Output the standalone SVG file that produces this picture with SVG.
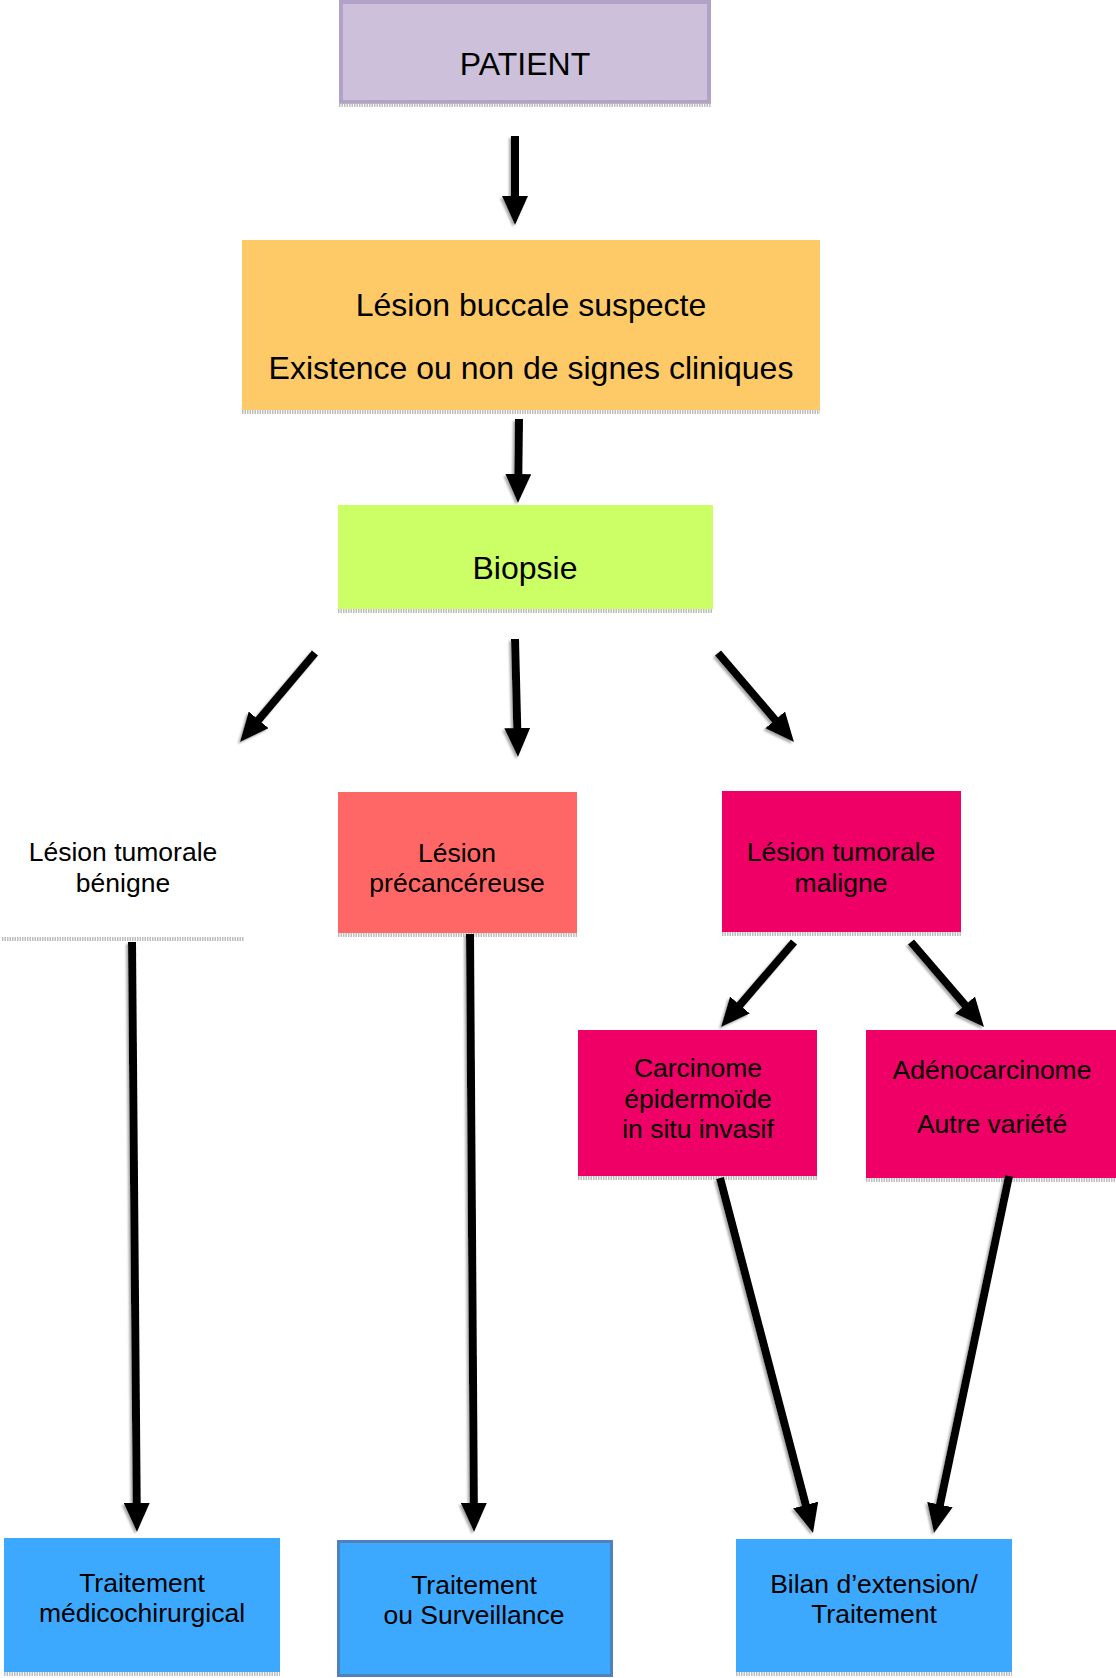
<svg xmlns="http://www.w3.org/2000/svg" width="1116" height="1678" viewBox="0 0 1116 1678">
<defs>
<style>
text{font-family:"Liberation Sans",Arial,sans-serif;fill:#000;text-anchor:middle}
.big{font-size:32px}
.sm{font-size:26.5px}
.conn line{stroke:#000;stroke-width:8;marker-end:url(#ah);filter:url(#sh)}
.shd{stroke:#bdbdbd;stroke-width:4;stroke-dasharray:1.5 1}
.blue{fill:#3ca9ff}
.mag{fill:#ee0066}
</style>
<marker id="ah" markerUnits="userSpaceOnUse" markerWidth="30" markerHeight="26" refX="10" refY="13" orient="auto">
<path d="M0,0 L29,13 L0,26 z" fill="#000"/>
</marker>
<filter id="sh" filterUnits="userSpaceOnUse" x="0" y="0" width="1116" height="1678">
<feDropShadow dx="-2" dy="2" stdDeviation="1" flood-color="#888" flood-opacity="0.7"/>
</filter>
</defs>
<rect width="1116" height="1678" fill="#fff"/>

<g id="patient">
<rect x="341" y="2" width="368" height="100" fill="#ccc0da" stroke="#b3a2c7" stroke-width="4"/>
<line class="shd" x1="339" y1="105" x2="711" y2="105"/>
<text class="big" x="525" y="75">PATIENT</text>
</g>

<g id="lesion-suspecte">
<rect x="242" y="240" width="578" height="170" fill="#fdca67"/>
<line class="shd" x1="242" y1="412" x2="820" y2="412"/>
<text class="big" x="531" y="316">Lésion buccale suspecte</text>
<text class="big" x="531" y="379">Existence ou non de signes cliniques</text>
</g>

<g id="biopsie">
<rect x="338" y="505" width="375" height="104" fill="#ccff66"/>
<line class="shd" x1="338" y1="611" x2="713" y2="611"/>
<text class="big" x="525" y="579">Biopsie</text>
</g>

<g id="benigne">
<line class="shd" x1="2" y1="939" x2="244" y2="939"/>
<text class="sm" x="123" y="861">Lésion tumorale</text>
<text class="sm" x="123" y="892">bénigne</text>
</g>

<g id="precancereuse">
<rect x="338" y="792" width="239" height="141" fill="#ff6666"/>
<line class="shd" x1="338" y1="935" x2="577" y2="935"/>
<text class="sm" x="457" y="862">Lésion</text>
<text class="sm" x="457" y="892">précancéreuse</text>
</g>

<g id="maligne">
<rect class="mag" x="722" y="791" width="239" height="141"/>
<line class="shd" x1="722" y1="934" x2="961" y2="934"/>
<text class="sm" x="841" y="861">Lésion tumorale</text>
<text class="sm" x="841" y="892">maligne</text>
</g>

<g id="carcinome">
<rect class="mag" x="578" y="1030" width="239" height="146"/>
<line class="shd" x1="578" y1="1178" x2="817" y2="1178"/>
<text class="sm" x="698" y="1077">Carcinome</text>
<text class="sm" x="698" y="1108">épidermoïde</text>
<text class="sm" x="698" y="1138">in situ invasif</text>
</g>

<g id="adenocarcinome">
<rect class="mag" x="866" y="1030" width="250" height="148"/>
<line class="shd" x1="866" y1="1180" x2="1116" y2="1180"/>
<text class="sm" x="992" y="1079">Adénocarcinome</text>
<text class="sm" x="992" y="1133">Autre variété</text>
</g>

<g id="traitement-medico">
<rect class="blue" x="4" y="1538" width="276" height="134"/>
<line class="shd" x1="4" y1="1674" x2="280" y2="1674"/>
<text class="sm" x="142" y="1592">Traitement</text>
<text class="sm" x="142" y="1622">médicochirurgical</text>
</g>

<g id="traitement-surveillance">
<rect class="blue" x="338.5" y="1541.5" width="273" height="134" stroke="#4f81bd" stroke-width="3"/>
<text class="sm" x="474" y="1594">Traitement</text>
<text class="sm" x="474" y="1624">ou Surveillance</text>
</g>

<g id="bilan">
<rect class="blue" x="736" y="1539" width="276" height="133"/>
<line class="shd" x1="736" y1="1674" x2="1012" y2="1674"/>
<text class="sm" x="874" y="1593">Bilan d’extension/</text>
<text class="sm" x="874" y="1623">Traitement</text>
</g>

<g id="connectors" class="conn">
<line x1="515" y1="136" x2="515" y2="206"/>
<line x1="519" y1="419" x2="518.2" y2="484"/>
<line x1="315" y1="653" x2="252.2" y2="727.5"/>
<line x1="515" y1="639" x2="517.5" y2="738"/>
<line x1="718" y1="653" x2="781.6" y2="727.5"/>
<line x1="794" y1="942" x2="733.4" y2="1012.6"/>
<line x1="911" y1="942" x2="971.6" y2="1012.6"/>
<line x1="132" y1="942" x2="136.8" y2="1513"/>
<line x1="470" y1="934" x2="473.9" y2="1513"/>
<line x1="720" y1="1178" x2="808.2" y2="1514.6"/>
<line x1="1009" y1="1176" x2="937.9" y2="1514.4"/>
</g>
</svg>
